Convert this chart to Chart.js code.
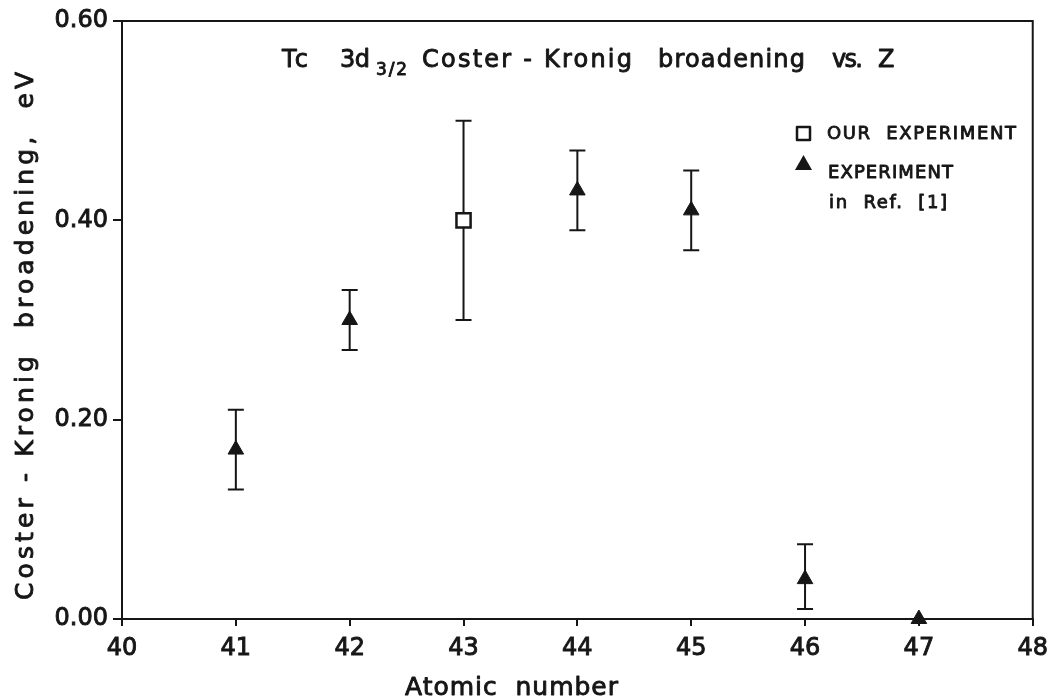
<!DOCTYPE html>
<html>
<head>
<meta charset="utf-8">
<script src="https://cdn.jsdelivr.net/npm/chart.js@4.4.1/dist/chart.umd.min.js"></script>
<style>
  html, body { margin: 0; background: #fff; }
  #wrap { width: 1056px; height: 697px; }
</style>
</head>
<body>
<div id="wrap"><canvas id="myChart"></canvas></div>
<script>
// data
const REF_Z = [41, 42, 44, 45, 46, 47];
const REF_VALUE = [0.17, 0.30, 0.43, 0.41, 0.04, 0.00];
const REF_LOW = [0.13, 0.27, 0.39, 0.37, 0.01, null];
const REF_HIGH = [0.21, 0.33, 0.47, 0.45, 0.075, null];

const OUR_Z = [43];
const OUR_VALUE = [0.40];
const OUR_LOW = [0.30];
const OUR_HIGH = [0.50];

const X_TICKS = [40, 41, 42, 43, 44, 45, 46, 47, 48];
const Y_TICKS = [0.00, 0.20, 0.40, 0.60];

const FONT = "'DejaVu Sans', sans-serif";
const INK = '#161616';
const EMBOLDEN = 0.9;

function toPoints(xs, ys, lo, hi) {
    return xs.map((x, i) => ({x: x, y: ys[i], lo: lo[i], hi: hi[i]}));
}

// stretch a piece of text between x0 and x1 by letter spacing
function fitText(ctx, text, x0, x1, y) {
    ctx.letterSpacing = '0px';
    const w = ctx.measureText(text).width;
    const sp = text.length > 1 ? (x1 - x0 - w) / (text.length - 1) : 0;
    ctx.letterSpacing = sp + 'px';
    ctx.fillText(text, x0, y);
    ctx.strokeText(text, x0, y);
    ctx.letterSpacing = '0px';
}

// error bars, drawn under the markers
const errorBars = {
    id: 'errorBars',
    beforeDatasetsDraw(chart) {
        const ctx = chart.ctx;
        const xs = chart.scales.x, ys = chart.scales.y;
        ctx.save();
        ctx.strokeStyle = INK;
        ctx.lineWidth = 2;
        chart.data.datasets.forEach(ds => {
            ds.data.forEach(p => {
                if (p.lo == null) return;
                const px = xs.getPixelForValue(p.x);
                const top = ys.getPixelForValue(p.hi);
                const bot = ys.getPixelForValue(p.lo);
                ctx.beginPath();
                ctx.moveTo(px, top); ctx.lineTo(px, bot);
                ctx.moveTo(px - 8, top); ctx.lineTo(px + 8, top);
                ctx.moveTo(px - 8, bot); ctx.lineTo(px + 8, bot);
                ctx.stroke();
            });
        });
        ctx.restore();
    }
};

// frame, title, axis titles and legend
const decorations = {
    id: 'decorations',
    afterDraw(chart) {
        const ctx = chart.ctx;
        const a = chart.chartArea;
        ctx.save();
        ctx.strokeStyle = INK;
        ctx.lineWidth = 2;
        ctx.strokeRect(a.left, a.top, a.right - a.left, a.bottom - a.top);

        ctx.fillStyle = INK;
        ctx.textBaseline = 'alphabetic';
        ctx.textAlign = 'left';
        ctx.lineWidth = EMBOLDEN;
        ctx.lineJoin = 'round';

        // title
        ctx.font = '24px ' + FONT;
        const ty = 67;
        fitText(ctx, 'Tc', 282, 308, ty);
        fitText(ctx, '3d', 340, 370, ty);
        fitText(ctx, 'Coster - Kronig', 422, 632, ty);
        fitText(ctx, 'broadening', 658, 805, ty);
        fitText(ctx, 'vs.', 832, 863, ty);
        fitText(ctx, 'Z', 878, 897, ty);
        ctx.font = '17px ' + FONT;
        fitText(ctx, '3/2', 376, 407, ty + 8);

        // legend
        ctx.font = '18px ' + FONT;
        fitText(ctx, 'OUR  EXPERIMENT', 827, 1016, 139);
        fitText(ctx, 'EXPERIMENT', 828, 953, 178);
        fitText(ctx, 'in  Ref.  [1]', 829, 947, 208);
        ctx.lineWidth = 2.5;
        ctx.strokeRect(797, 127, 13, 13);
        ctx.beginPath();
        ctx.moveTo(803.5, 155); ctx.lineTo(812, 170); ctx.lineTo(795, 170);
        ctx.closePath();
        ctx.fill();
        ctx.lineWidth = EMBOLDEN;

        // x axis title
        ctx.font = '25px ' + FONT;
        fitText(ctx, 'Atomic  number', 405, 618, 695);

        // y axis title
        ctx.translate(33, 600);
        ctx.rotate(-Math.PI / 2);
        fitText(ctx, 'Coster - Kronig  broadening,  eV', 0, 528, 0);
        ctx.restore();
    }
};

const tickFont = { family: FONT, size: 24 };

const ctx = document.getElementById('myChart').getContext('2d');
new Chart(ctx, {
    type: 'scatter',
    data: {
        datasets: [
            {
                label: 'OUR EXPERIMENT',
                data: toPoints(OUR_Z, OUR_VALUE, OUR_LOW, OUR_HIGH),
                pointStyle: 'rect',
                pointRadius: 10,
                pointBorderWidth: 2.5,
                pointBackgroundColor: '#fff',
                pointBorderColor: INK,
                clip: false
            },
            {
                label: 'EXPERIMENT in Ref. [1]',
                data: toPoints(REF_Z, REF_VALUE, REF_LOW, REF_HIGH),
                pointStyle: 'triangle',
                pointRadius: 9,
                pointBorderWidth: 1,
                pointBackgroundColor: INK,
                pointBorderColor: INK,
                clip: false
            }
        ]
    },
    options: {
        responsive: true,
        maintainAspectRatio: false,
        animation: false,
        events: [],
        layout: { padding: { left: 0, top: 21, right: 18, bottom: 0 } },
        plugins: { legend: { display: false }, tooltip: { enabled: false } },
        scales: {
            x: {
                type: 'linear',
                min: 40, max: 48,
                afterBuildTicks: s => { s.ticks = X_TICKS.map(v => ({value: v})); },
                afterFit: s => { s.height = 78; },
                grid: { drawOnChartArea: false, drawTicks: true, tickLength: 7, color: INK, lineWidth: 2 },
                border: { color: INK, width: 2 },
                ticks: { color: INK, font: tickFont, padding: 8, maxRotation: 0,
                         textStrokeColor: INK, textStrokeWidth: EMBOLDEN }
            },
            y: {
                type: 'linear',
                min: 0, max: 0.6,
                afterBuildTicks: s => { s.ticks = Y_TICKS.map(v => ({value: v})); },
                afterFit: s => { s.width = 122; },
                grid: { drawOnChartArea: false, drawTicks: true, tickLength: 9, color: INK, lineWidth: 2 },
                border: { color: INK, width: 2 },
                ticks: { color: INK, font: tickFont, padding: 5, callback: v => v.toFixed(2),
                         textStrokeColor: INK, textStrokeWidth: EMBOLDEN }
            }
        }
    },
    plugins: [errorBars, decorations]
});
</script>
</body>
</html>
